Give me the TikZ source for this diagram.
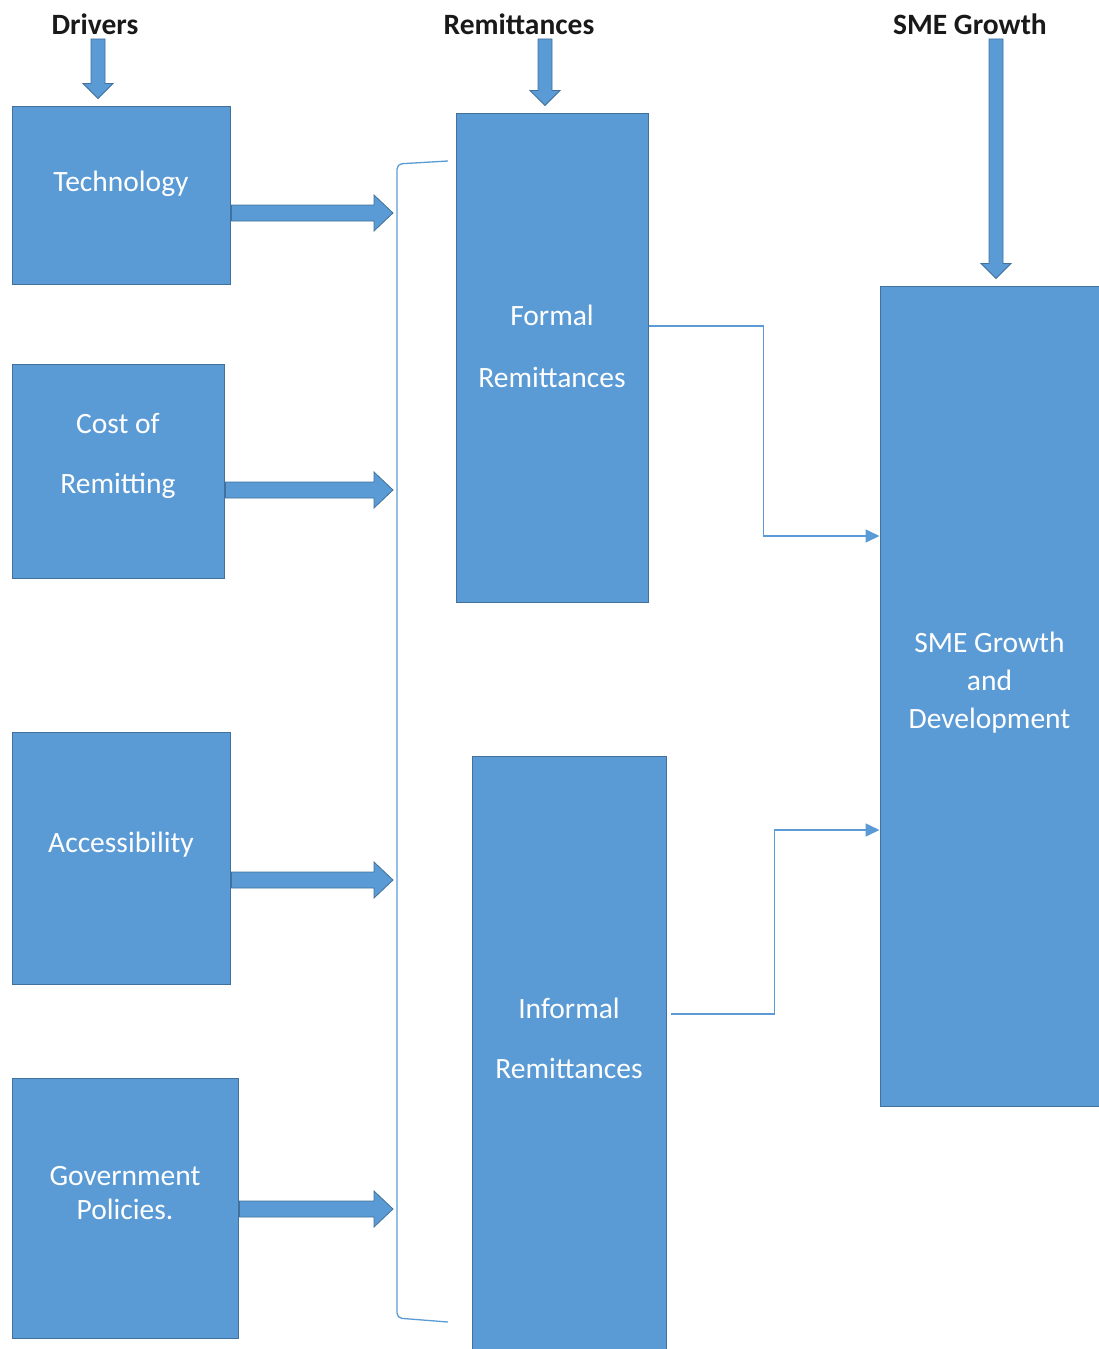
\documentclass[tikz,border=0pt]{standalone}
\usepackage{fontspec}
\setmainfont{Carlito}
\usetikzlibrary{calc,arrows.meta}

\definecolor{boxblue}{HTML}{5B9BD5}
\definecolor{boxedge}{HTML}{41719C}

\tikzset{
  box/.style={draw=boxedge, fill=boxblue, line width=1pt, shape=rectangle, inner sep=0pt},
  boxtext/.style={text=white, align=center, font=\fontsize{29.5}{36}\selectfont, yshift=13pt},
  header/.style={text=black!90, font=\fontsize{29.5}{34}\selectfont\bfseries},
  blockarrow/.style={draw=boxedge, fill=boxblue, line width=0.8pt},
  link/.style={draw=boxblue, line width=1.6pt},
}

% block arrow pointing down: #1 x, #2 upper node anchor, #3 lower node anchor
\newcommand{\blockdown}[3]{%
  \draw[blockarrow] let \p3=(#1,0), \p1=(#2), \p2=(#3) in
    (\x3-7pt,\y1-1pt) -- (\x3-7pt,\y2+22pt) -- (\x3-15pt,\y2+22pt) -- (\x3,\y2+7pt)
    -- (\x3+15pt,\y2+22pt) -- (\x3+7pt,\y2+22pt) -- (\x3+7pt,\y1-1pt) -- cycle;}

% block arrow pointing right: #1 box, #2 y, #3 tip coordinate
\newcommand{\blockright}[3]{%
  \draw[blockarrow] let \p1=(#1.east), \p2=(#3), \p3=(0,#2) in
    (\x1+1pt,\y3+8pt) -- (\x2-19pt,\y3+8pt) -- (\x2-19pt,\y3+18pt) -- (\x2,\y3)
    -- (\x2-19pt,\y3-18pt) -- (\x2-19pt,\y3-8pt) -- (\x1+1pt,\y3-8pt) -- cycle;}

\begin{document}
\begin{tikzpicture}[x=1pt, y=-1pt]
   \useasboundingbox (0,0) rectangle (1098,1349);

   % column headers
   \path (95,24) node[header] (hdrdrv) {Drivers};
   \path (519,24) node[header] (hdrrem) {Remittances};
   \path (970,24) node[header] (hdrsme) {SME Growth};

   % drivers
   \path (121,195) node[box, minimum width=218pt, minimum height=178pt,
     label={[boxtext,yshift=-2pt]center:Technology}] (tech) {};
   \path (118,471) node[box, minimum width=212pt, minimum height=214pt,
     label={[boxtext,yshift=2pt]center:{Cost of\\[24pt]Remitting}}] (cost) {};
   \path (121,858) node[box, minimum width=218pt, minimum height=252pt,
     label={[boxtext]center:Accessibility}] (access) {};
   \path (125,1208) node[box, minimum width=226pt, minimum height=260pt,
     label={[boxtext,yshift=2pt]center:{Government\\[-2pt]Policies.}}] (gov) {};

   % remittances
   \path (552,357.5) node[box, minimum width=192pt, minimum height=489pt,
     label={[boxtext,yshift=-2pt]center:{Formal\\[26pt]Remittances}}] (formal) {};
   \path (569,1063) node[box, minimum width=194pt, minimum height=614pt,
     label={[boxtext,yshift=12pt]center:{Informal\\[24pt]Remittances}}] (informal) {};

   % outcome
   \path (989.5,696) node[box, minimum width=219pt, minimum height=820pt,
     label={[boxtext]center:{SME Growth\\[2pt]and\\[2pt]Development}}] (growth) {};

   % header arrows
   \blockdown{98}{hdrdrv.south}{tech.north}
   \blockdown{545}{hdrrem.south}{formal.north}
   \blockdown{996}{hdrsme.south}{growth.north}

   % bracket joining the drivers
   \coordinate (brk) at (393,740);
   \draw[link, line width=1.3pt, rounded corners=5pt]
     (448,161) -- (397,164) -- (397,1318) -- (448,1322);

   \blockright{tech}{213}{brk}
   \blockright{cost}{490}{brk}
   \blockright{access}{880}{brk}
   \blockright{gov}{1209}{brk}

   % remittances to growth
   \draw[link, -{Triangle[length=14pt,width=13pt]}]
     ([yshift=31.5pt]formal.east) -- ++(115,0) |- ([yshift=160pt]growth.west);
   \draw[link, -{Triangle[length=14pt,width=13pt]}]
     ([xshift=4pt,yshift=49pt]informal.east) -- ++(104,0) |- ([yshift=-134pt]growth.west);
\end{tikzpicture}
\end{document}
